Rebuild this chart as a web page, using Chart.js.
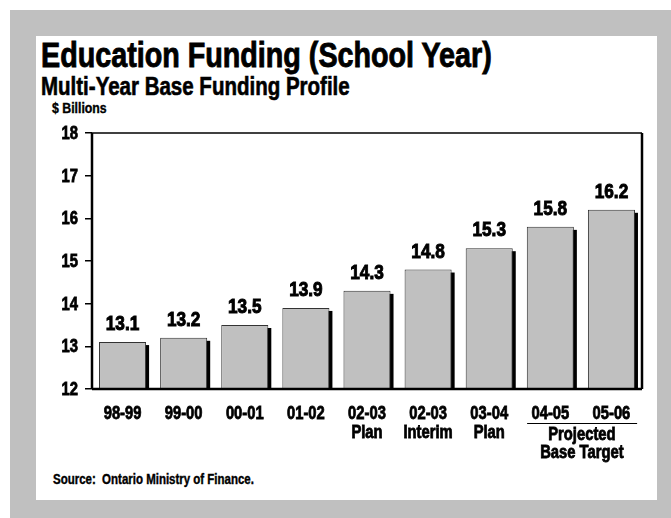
<!DOCTYPE html>
<html>
<head>
<meta charset="utf-8">
<script src="https://cdn.jsdelivr.net/npm/chart.js@4/dist/chart.umd.min.js"></script>
<style>
    html, body { margin: 0; padding: 0; width: 671px; height: 518px; overflow: hidden; background: #fff; }
    body { position: relative; font-family: 'Liberation Sans', Arial, sans-serif; font-weight: bold; color: #000; }
    #moldura { position: absolute; left: 10px; top: 10px; width: 661px; height: 508px; background: #c0c0c0; }
    #painel { position: absolute; left: 36px; top: 36px; width: 621px; height: 464px; background: #fff; }
    /* texto condensado: Liberation Sans estreitado na horizontal e engrossado */
    .texto { position: absolute; white-space: nowrap; line-height: 1; transform: scaleX(0.82); transform-origin: 0 0; -webkit-text-stroke: 0.6px #000; }
    #titulo { left: 41px; top: 37px; font-size: 35px; -webkit-text-stroke: 0.9px #000; }
    #subtitulo { left: 41px; top: 74px; font-size: 25px; }
    #unidade { left: 52px; top: 100px; font-size: 15px; -webkit-text-stroke: 0.4px #000; }
    #fonte { left: 53px; top: 472px; font-size: 14px; -webkit-text-stroke: 0.4px #000; }
    #grafico-box { position: absolute; left: 36px; top: 110px; width: 621px; height: 380px; }
</style>
</head>
<body>
<div id="moldura"></div>
<div id="painel"></div>
<div class="texto" id="titulo">Education Funding (School Year)</div>
<div class="texto" id="subtitulo">Multi-Year Base Funding Profile</div>
<div class="texto" id="unidade">$ Billions</div>
<div class="texto" id="fonte">Source:&nbsp; Ontario Ministry of Finance.</div>
<div id="grafico-box"><canvas id="grafico"></canvas></div>

<script>
// Dados
const anos = [['98-99'], ['99-00'], ['00-01'], ['01-02'], ['02-03', 'Plan'], ['02-03', 'Interim'], ['03-04', 'Plan'], ['04-05'], ['05-06']];
const financiamento = [13.1, 13.2, 13.5, 13.9, 14.3, 14.8, 15.3, 15.8, 16.2];
const ticksY = [12, 13, 14, 15, 16, 17, 18];
const grupoProjetado = ['Projected', 'Base Target'];
const indicesProjetados = [7, 8];

const FONTE = "'Liberation Sans', Arial, sans-serif";
const ESTREITO = 0.82; // fator de condensação horizontal

function textoEstreito(ctx, texto, x, y, align, grossura) {
    ctx.save();
    ctx.translate(x, y);
    ctx.scale(ESTREITO, 1);
    ctx.textAlign = align;
    ctx.fillText(texto, 0, 0);
    ctx.lineWidth = grossura || 0.8;
    ctx.strokeText(texto, 0, 0);
    ctx.restore();
}

// Sombra preta atrás das barras
const sombraBarras = {
    id: 'sombraBarras',
    beforeDatasetsDraw(chart) {
        const ctx = chart.ctx;
        const area = chart.chartArea;
        const meta = chart.getDatasetMeta(0);
        ctx.save();
        ctx.fillStyle = '#000';
        meta.data.forEach(bar => {
            const base = Math.min(bar.base, area.bottom);
            ctx.fillRect(bar.x - bar.width / 2 + 3, bar.y + 3, bar.width, base - bar.y - 3);
        });
        ctx.restore();
    }
};

// Moldura, rótulos, valores e grupo projetado
const extras = {
    id: 'extras',
    afterDatasetsDraw(chart) {
        const ctx = chart.ctx;
        const area = chart.chartArea;
        const x = chart.scales.x;
        const y = chart.scales.y;
        ctx.save();

        // caixa do gráfico
        ctx.strokeStyle = '#000';
        ctx.lineWidth = 1.5;
        ctx.beginPath();
        ctx.moveTo(area.left, area.top);
        ctx.lineTo(area.right, area.top);
        ctx.stroke();
        ctx.lineWidth = 2.5;
        ctx.beginPath();
        ctx.moveTo(area.right, area.top);
        ctx.lineTo(area.right, area.bottom);
        ctx.moveTo(area.left, area.bottom);
        ctx.lineTo(area.right, area.bottom);
        ctx.moveTo(area.left, area.top);
        ctx.lineTo(area.left, area.bottom);
        ctx.stroke();

        ctx.fillStyle = '#000';

        // rótulos do eixo y
        ctx.font = 'bold 18px ' + FONTE;
        ctx.textBaseline = 'middle';
        ticksY.forEach(v => {
            textoEstreito(ctx, String(v), area.left - 14, y.getPixelForValue(v) + 1, 'right');
        });

        // rótulos do eixo x
        anos.forEach((linhas, i) => {
            linhas.forEach((linha, j) => {
                textoEstreito(ctx, linha, x.getPixelForValue(i), area.bottom + 25 + 19 * j, 'center');
            });
        });

        // valores acima das barras
        ctx.font = 'bold 21px ' + FONTE;
        ctx.textBaseline = 'alphabetic';
        chart.getDatasetMeta(0).data.forEach((bar, i) => {
            textoEstreito(ctx, financiamento[i].toFixed(1), bar.x, bar.y - 12, 'center', 1);
        });

        // grupo "Projected Base Target"
        const x1 = x.getPixelForValue(indicesProjetados[0]);
        const x2 = x.getPixelForValue(indicesProjetados[1]);
        const passo = x2 - x1;
        const yLinha = area.bottom + 34;
        ctx.lineWidth = 1;
        ctx.beginPath();
        ctx.moveTo(x1 - passo * 0.38, yLinha + 0.5);
        ctx.lineTo(x2 + passo * 0.42, yLinha + 0.5);
        ctx.stroke();
        ctx.font = 'bold 18px ' + FONTE;
        ctx.textBaseline = 'middle';
        grupoProjetado.forEach((linha, i) => {
            textoEstreito(ctx, linha, (x1 + x2) / 2 + 1, area.bottom + 46 + 18 * i, 'center');
        });
        ctx.restore();
    }
};

const ctxGrafico = document.getElementById('grafico').getContext('2d');
new Chart(ctxGrafico, {
    type: 'bar',
    data: {
        labels: anos,
        datasets: [{
            data: financiamento,
            backgroundColor: '#c0c0c0',
            borderColor: '#333333',
            borderWidth: 1,
            barPercentage: 0.77,
            categoryPercentage: 1
        }]
    },
    options: {
        responsive: true,
        maintainAspectRatio: false,
        animation: false,
        layout: {
            padding: { left: 0, right: 15, top: 23, bottom: 0 }
        },
        plugins: {
            legend: { display: false },
            tooltip: { enabled: false }
        },
        scales: {
            x: {
                grid: { display: false },
                border: { display: false },
                ticks: { display: false },
                afterFit(scale) { scale.height = 101; }
            },
            y: {
                min: ticksY[0],
                max: ticksY[ticksY.length - 1],
                afterBuildTicks(scale) {
                    scale.ticks = ticksY.map(v => ({ value: v }));
                },
                grid: {
                    drawOnChartArea: false,
                    drawTicks: true,
                    tickLength: 7,
                    color: '#000',
                    lineWidth: 1.5
                },
                border: { display: false },
                ticks: {
                    color: 'rgba(0,0,0,0)',
                    padding: 7,
                    font: { family: FONTE, size: 17, weight: 'bold' }
                },
                afterFit(scale) { scale.width = 56; }
            }
        }
    },
    plugins: [sombraBarras, extras]
});
</script>
</body>
</html>
